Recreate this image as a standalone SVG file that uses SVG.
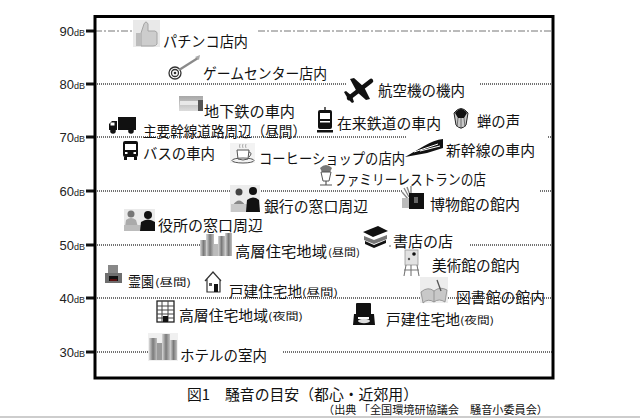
<svg xmlns="http://www.w3.org/2000/svg" width="640" height="418" viewBox="0 0 640 418">
<style>
.lbl{font-family:"Noto Sans CJK JP","Noto Sans",sans-serif;font-size:14.5px;fill:#111}
.sm{font-family:"Noto Sans CJK JP","Noto Sans",sans-serif;font-size:10px;fill:#111}
.ax{font-family:"Liberation Sans",Arial,sans-serif;font-size:13px;fill:#222}
.grid{stroke:#444;stroke-width:1.3;stroke-dasharray:1 1;fill:none}
.tick{stroke:#111;stroke-width:3}
.ttl{font-family:"Noto Sans CJK JP","Noto Sans",sans-serif;font-size:15px;fill:#111}
.src{font-family:"Noto Sans CJK JP","Noto Sans",sans-serif;font-size:11px;fill:#111}
.ink{fill:#111}
.gry{fill:#9a9a9a}
.ln{stroke:#111;fill:none;stroke-width:1.3}
</style>
<defs>
<linearGradient id="bld" x1="0" y1="0" x2="1" y2="0">
<stop offset="0" stop-color="#d8d8d8"/><stop offset="0.5" stop-color="#7a7a7a"/><stop offset="1" stop-color="#c0c0c0"/>
</linearGradient>
<linearGradient id="photo" x1="0" y1="0" x2="0" y2="1">
<stop offset="0" stop-color="#a8a8a8"/><stop offset="1" stop-color="#dcdcdc"/>
</linearGradient>
</defs>
<rect width="640" height="418" fill="#fff"/>
<line x1="0" y1="417" x2="640" y2="417" stroke="#bdbdbd" stroke-width="1.5"/>

<g id="axis">
<text class="ax" x="85" y="36" text-anchor="end">90<tspan font-size="9">dB</tspan></text>
<text class="ax" x="85" y="89" text-anchor="end">80<tspan font-size="9">dB</tspan></text>
<text class="ax" x="85" y="142" text-anchor="end">70<tspan font-size="9">dB</tspan></text>
<text class="ax" x="85" y="196" text-anchor="end">60<tspan font-size="9">dB</tspan></text>
<text class="ax" x="85" y="250" text-anchor="end">50<tspan font-size="9">dB</tspan></text>
<text class="ax" x="85" y="303" text-anchor="end">40<tspan font-size="9">dB</tspan></text>
<text class="ax" x="85" y="357" text-anchor="end">30<tspan font-size="9">dB</tspan></text>
<line class="tick" x1="86" y1="31" x2="95" y2="31"/>
<line class="tick" x1="86" y1="84" x2="95" y2="84"/>
<line class="tick" x1="86" y1="137" x2="95" y2="137"/>
<line class="tick" x1="86" y1="191" x2="95" y2="191"/>
<line class="tick" x1="86" y1="245" x2="95" y2="245"/>
<line class="tick" x1="86" y1="298" x2="95" y2="298"/>
<line class="tick" x1="86" y1="352" x2="95" y2="352"/>
</g>

<g id="connectors">
<path d="M95 31H133M258 31H553" stroke="#777" stroke-width="1" stroke-dasharray="7 2 2 2" fill="none"/>
<path class="grid" d="M95 84H347M480 84H553"/>
<path class="grid" d="M95 137H407M548 137H553"/>
<path class="grid" d="M95 191H231M261 191H402M540 191H553"/>
<path class="grid" d="M95 245H200M470 245H553"/>
<path class="grid" d="M95 298H420M448 298H553"/>
<path class="grid" d="M95 352H148M283 352H553"/>
</g>

<rect id="frame" x="95" y="16.5" width="458" height="361.5" fill="none" stroke="#000" stroke-width="3"/>

<g id="n-pachinko">
<rect x="133" y="20" width="27" height="27" fill="#e9e9e9"/>
<path d="M141 33 L144 24 Q146 20 148 24 L148 31 L155 31 Q158 32 157 35 L157 44 Q156 46 153 46 L141 46 Z" fill="#cdcdcd" stroke="#a5a5a5"/>
<rect x="136" y="33" width="5" height="13" fill="#bcbcbc"/>
<text class="lbl" x="163" y="47" textLength="85" lengthAdjust="spacingAndGlyphs">パチンコ店内</text>
</g>

<g id="n-game">
<circle cx="175" cy="73" r="6" fill="#fff" stroke="#333" stroke-width="1.3"/>
<circle cx="175" cy="73" r="3.5" fill="none" stroke="#333" stroke-width="1.3"/>
<circle cx="175" cy="73" r="1.3" fill="#333"/>
<line x1="179" y1="70" x2="198" y2="58" stroke="#8a8a8a" stroke-width="2.2"/>
<path d="M195 57 L200 55 L199 60 Z" fill="#aaa"/>
<text class="lbl" x="203" y="79" textLength="124" lengthAdjust="spacingAndGlyphs">ゲームセンター店内</text>
</g>

<g id="n-airplane">
<line x1="349" y1="98" x2="371" y2="81" stroke="#111" stroke-width="4.5" stroke-linecap="round"/>
<polygon class="ink" points="357,92 364,87 354,78 350,79"/>
<polygon class="ink" points="357,92 364,87 370,99 366,100"/>
<polygon class="ink" points="348,99 352,96 346,91 344,92"/>
<polygon class="ink" points="348,99 352,96 354,102 352,103"/>
<text class="lbl" x="378" y="96" textLength="87" lengthAdjust="spacingAndGlyphs">航空機の機内</text>
</g>

<g id="n-subway">
<rect x="179" y="96" width="24" height="15" fill="url(#photo)"/>
<rect x="180" y="101" width="18" height="4" fill="#e8e8e8"/>
<rect x="198" y="100" width="5" height="11" fill="#555"/>
<text class="lbl" x="204" y="117" textLength="91" lengthAdjust="spacingAndGlyphs">地下鉄の車内</text>
</g>

<g id="n-road">
<rect class="ink" x="118" y="117" width="18" height="13"/>
<path class="ink" d="M109 130 L109 124 L112 121 L117 121 L117 130 Z"/>
<rect x="110.5" y="122.5" width="4" height="3" fill="#fff"/>
<circle class="ink" cx="113" cy="131" r="2.8"/>
<circle class="ink" cx="131" cy="131" r="2.8"/>
<text class="lbl" x="143" y="137" textLength="163" lengthAdjust="spacingAndGlyphs">主要幹線道路周辺（昼間）</text>
</g>

<g id="n-tram">
<line class="ln" x1="325" y1="107" x2="325" y2="110"/>
<rect class="ink" x="318" y="110" width="14" height="19" rx="2"/>
<rect x="320" y="113" width="10" height="6" fill="#fff"/>
<rect x="320" y="121" width="10" height="1.5" fill="#fff"/>
<rect class="ink" x="317" y="130" width="16" height="2.5"/>
<text class="lbl" x="337" y="129" textLength="104" lengthAdjust="spacingAndGlyphs">在来鉄道の車内</text>
</g>

<g id="n-cicada">
<path d="M454 113 Q461 104 468 113 L466 125 Q461 131 456 125 Z" fill="#c8c8c8" stroke="#222" stroke-width="1"/>
<path class="ink" d="M455 113 Q461 105 467 113 L464 118 L458 118 Z"/>
<path d="M458 118 L457 127 M464 118 L465 127 M461 118 L461 129" stroke="#555" stroke-width="0.8"/>
<text class="lbl" x="477" y="127" textLength="43" lengthAdjust="spacingAndGlyphs">蝉の声</text>
</g>

<g id="n-bus">
<rect class="ink" x="123" y="141" width="15" height="16" rx="2"/>
<rect x="125" y="144" width="11" height="6" fill="#fff"/>
<rect x="125" y="152" width="2.5" height="2" fill="#fff"/>
<rect x="133.5" y="152" width="2.5" height="2" fill="#fff"/>
<rect class="ink" x="124" y="157" width="3" height="3"/>
<rect class="ink" x="134" y="157" width="3" height="3"/>
<text class="lbl" x="143" y="159" textLength="72" lengthAdjust="spacingAndGlyphs">バスの車内</text>
</g>

<g id="n-coffee">
<rect x="230" y="143" width="25" height="20" fill="#f3f3f3"/>
<path d="M237 150 L249 150 L248 159 Q243 161 238 159 Z" fill="#fff" stroke="#555" stroke-width="1"/>
<path d="M249 152 Q253 153 249 157" fill="none" stroke="#555" stroke-width="1"/>
<ellipse cx="243" cy="160.5" rx="11" ry="2.5" fill="none" stroke="#555" stroke-width="1"/>
<path d="M240 148 Q239 146 240 144 M243 148 Q242 146 243 144 M246 148 Q245 146 246 144" stroke="#999" stroke-width="0.8" fill="none"/>
<text class="lbl" x="259" y="164" textLength="146" lengthAdjust="spacingAndGlyphs">コーヒーショップの店内</text>
</g>

<g id="n-shinkansen">
<path class="ink" d="M405 157 L424 146 Q434 140 443 139 L443 148 L427 153 Z"/>
<path d="M414 152 L438 144 M420 151 L440 146" stroke="#fff" stroke-width="1"/>
<text class="lbl" x="446" y="156" textLength="89" lengthAdjust="spacingAndGlyphs">新幹線の車内</text>
</g>

<g id="n-family">
<path d="M320 168 Q326 162 332 168 L330 172 L322 172 Z" fill="#777"/>
<path d="M321 172 L331 172 L329 181 L323 181 Z" fill="#fff" stroke="#555" stroke-width="1"/>
<path d="M320 185 L332 185 M326 181 L326 185" stroke="#555" stroke-width="1.2"/>
<text class="lbl" x="334" y="185" textLength="152" lengthAdjust="spacingAndGlyphs">ファミリーレストランの店</text>
</g>

<g id="n-bank">
<rect x="230" y="185" width="30" height="27" fill="#ececec"/>
<circle cx="239" cy="192" r="3.5" fill="#444"/>
<path d="M233 205 Q239 196 245 205 Z" fill="#888"/>
<rect x="231" y="204" width="18" height="8" fill="#c9c9c9"/>
<circle class="ink" cx="253" cy="191" r="4"/>
<path class="ink" d="M246 212 L247 200 Q253 195 259 200 L260 212 Z"/>
<text class="lbl" x="264" y="212" textLength="104" lengthAdjust="spacingAndGlyphs">銀行の窓口周辺</text>
</g>

<g id="n-museum">
<path d="M404 188 L409 197 M407 187 L410 195 M402 192 L408 199 M411 186 L411 194 M403 200 L409 203" stroke="#888" stroke-width="1.4"/>
<rect x="402" y="198" width="7" height="10" fill="#bbb"/>
<rect class="ink" x="409" y="193" width="15" height="16"/>
<rect x="414" y="197" width="4" height="6" fill="#666"/>
<text class="lbl" x="430" y="210" textLength="90" lengthAdjust="spacingAndGlyphs">博物館の館内</text>
</g>

<g id="n-office">
<rect x="124" y="209" width="31" height="22" fill="#eaeaea"/>
<circle cx="131" cy="214" r="3.5" fill="#777"/>
<path d="M125 227 L126 220 Q131 216 136 220 L138 227 Z" fill="#aaa"/>
<rect x="124" y="225" width="20" height="6" fill="#bcbcbc"/>
<circle class="ink" cx="148" cy="215" r="4"/>
<path class="ink" d="M140 231 L141 222 Q148 217 155 222 L155 231 Z"/>
<text class="lbl" x="158" y="231" textLength="105" lengthAdjust="spacingAndGlyphs">役所の窓口周辺</text>
</g>

<g id="n-highrise-day">
<rect x="200" y="240" width="7" height="16" fill="url(#bld)"/>
<rect x="206" y="234" width="8" height="22" fill="url(#bld)"/>
<rect x="214" y="244" width="4" height="12" fill="#bbb"/>
<rect x="218" y="236" width="7" height="20" fill="url(#bld)"/>
<rect x="225" y="233" width="7" height="23" fill="url(#bld)"/>
<text class="lbl" x="235" y="257" textLength="92" lengthAdjust="spacingAndGlyphs">高層住宅地域</text>
<text class="sm" x="328" y="256" textLength="32" lengthAdjust="spacingAndGlyphs">(昼間)</text>
</g>

<g id="n-bookstore">
<path class="ink" d="M363 232 L378 226 L388 231 L373 237 Z"/>
<path d="M364 236 L374 240 L387 235 L387 239 L374 244 L364 240 Z" fill="#777"/>
<path class="ink" d="M365 241 L374 245 L386 240 L386 243 L374 248 L365 244 Z"/>
<circle cx="390" cy="246" r="0.8" fill="#555"/>
<text class="lbl" x="393" y="247" textLength="60" lengthAdjust="spacingAndGlyphs">書店の店</text>
</g>

<g id="n-art">
<rect x="405" y="250" width="13" height="15" fill="#e2e2e2" stroke="#999" stroke-width="0.8"/>
<circle class="ink" cx="414" cy="254" r="1.8"/>
<circle cx="409" cy="259" r="1.2" fill="#555"/>
<path d="M406 265 L404 276 M417 265 L419 276 M411 265 L411 276 M404 270 L419 270" stroke="#777" stroke-width="1.1"/>
<text class="lbl" x="432" y="271" textLength="88" lengthAdjust="spacingAndGlyphs">美術館の館内</text>
</g>

<g id="n-cemetery">
<rect x="108" y="265" width="10" height="9" fill="#888"/>
<rect x="105" y="273" width="17" height="10" fill="#6e6e6e"/>
<rect class="ink" x="109" y="276" width="9" height="5"/>
<rect x="110" y="279" width="7" height="2" fill="#5a1010"/>
<text class="lbl" x="128" y="287" textLength="26" lengthAdjust="spacingAndGlyphs">霊園</text>
<text class="sm" x="155" y="286" textLength="36" lengthAdjust="spacingAndGlyphs">(昼間)</text>
</g>

<g id="n-house-day">
<path d="M205 281 L213 272 L221 281 M207 279 L207 292 L220 292 L220 279" fill="#fff" stroke="#333" stroke-width="1.2"/>
<rect class="ink" x="214" y="284" width="4" height="8"/>
<rect x="209" y="283" width="3" height="3" fill="#555"/>
<text class="lbl" x="229" y="297" textLength="73" lengthAdjust="spacingAndGlyphs">戸建住宅地</text>
<text class="sm" x="302" y="296" textLength="36" lengthAdjust="spacingAndGlyphs">(昼間)</text>
</g>

<g id="n-library">
<rect x="420" y="277" width="28" height="26" fill="#ededed"/>
<path d="M421 292 Q428 286 434 291 Q440 286 447 290 L445 302 Q439 298 434 302 Q428 298 423 303 Z" fill="#c8c8c8" stroke="#888" stroke-width="0.8"/>
<line x1="434" y1="291" x2="434" y2="302" stroke="#888" stroke-width="0.8"/>
<line x1="437" y1="280" x2="441" y2="291" stroke="#555" stroke-width="1.3"/>
<text class="lbl" x="456" y="303" textLength="89" lengthAdjust="spacingAndGlyphs">図書館の館内</text>
</g>

<g id="n-highrise-night">
<rect x="157" y="301" width="17" height="21" fill="#fff" stroke="#222" stroke-width="1.3"/>
<path d="M157 306 H174 M157 310 H174 M157 314 H174 M157 318 H174 M162 301 V322 M168 301 V322" stroke="#444" stroke-width="1"/>
<rect class="ink" x="163" y="316" width="5" height="6"/>
<text class="lbl" x="179" y="321" textLength="89" lengthAdjust="spacingAndGlyphs">高層住宅地域</text>
<text class="sm" x="268" y="320" textLength="35" lengthAdjust="spacingAndGlyphs">(夜間)</text>
</g>

<g id="n-house-night">
<rect class="ink" x="356" y="303" width="15" height="14" rx="1"/>
<path class="ink" d="M353 325 L354 314 L358 314 L358 319 L369 319 L369 314 L374 314 L375 325 Z"/>
<ellipse cx="364" cy="321" rx="6" ry="2.2" fill="#ddd"/>
<text class="lbl" x="386" y="325" textLength="74" lengthAdjust="spacingAndGlyphs">戸建住宅地</text>
<text class="sm" x="460" y="324" textLength="34" lengthAdjust="spacingAndGlyphs">(夜間)</text>
</g>

<g id="n-hotel">
<rect x="148" y="333" width="30" height="28" fill="#f0f0f0"/>
<rect x="149" y="338" width="8" height="22" fill="url(#bld)"/>
<rect x="157" y="343" width="5" height="17" fill="#9a9a9a"/>
<rect x="162" y="334" width="8" height="26" fill="url(#bld)"/>
<rect x="170" y="340" width="7" height="20" fill="url(#bld)"/>
<text class="lbl" x="180" y="361" textLength="87" lengthAdjust="spacingAndGlyphs">ホテルの室内</text>
</g>

<g id="caption">
<text class="ttl" x="187" y="400" textLength="231" lengthAdjust="spacingAndGlyphs">図1　騒音の目安（都心・近郊用）</text>
<text class="src" x="323" y="414" textLength="225" lengthAdjust="spacingAndGlyphs">（出典 「全国環境研協議会　騒音小委員会）</text>
</g>
</svg>
